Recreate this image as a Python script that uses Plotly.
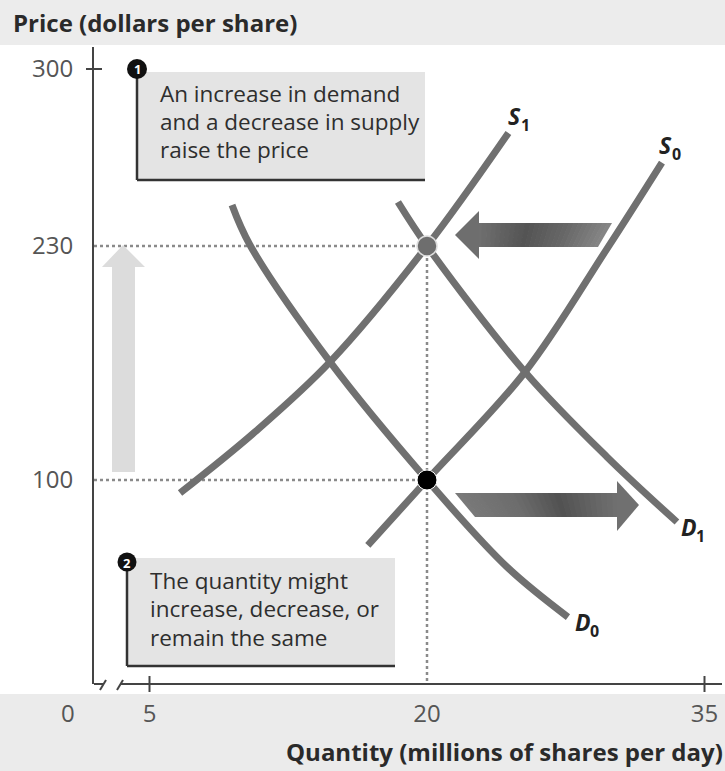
import numpy as np
import plotly.graph_objects as go

# ---------------- data ----------------
price_ticks = [100, 230, 300]
price_tick_labels = ["100", "230", "300"]
quantity_ticks = [5, 20, 35]
quantity_tick_labels = ["5", "20", "35"]

s0_q = [16.8, 20.0, 25.3, 29.7, 32.7]
s0_p = [68, 100, 160, 228, 263]
s1_q = [6.65, 10.7, 14.76, 20.0, 24.4]
s1_p = [93.6, 126.7, 165.6, 230, 274.7]
d0_q = [9.46, 10.43, 14.76, 20.0, 24.32, 27.62]
d0_p = [246.2, 230.4, 165.6, 100, 57.4, 32.8]
d1_q = [18.43, 20.0, 25.3, 29.73, 33.51]
d1_p = [247.4, 230, 160, 112.8, 79.4]

eq_q = [20, 20]          # initial and new equilibrium quantity
eq_p = [100, 230]        # initial and new equilibrium price

# ---------------- layout geometry ----------------
W, H = 725, 771
L, R, T, B = 94, 5, 47, 87
PW, PH = W - L - R, H - T - B
PX_PER_Q = 18.5
X_RANGE = [2.0, 2.0 + PW / PX_PER_Q]
# the printed price axis is not evenly spaced: anchor positions of its ticks
SCALE_PRICE = [0, 100, 230, 300]
SCALE_POS = [0, 204, 438, 615]


def ypos(p):
    return np.interp(p, SCALE_PRICE, SCALE_POS)


def px(x):
    return (x - L) / PW


def py(y):
    return (H - B - y) / PH


FONT = "Open Sans"
CURVE = "#707070"
fig = go.Figure()

# dotted guide lines
x_axis_start = X_RANGE[0]
for q, p in zip(eq_q, eq_p):
    fig.add_trace(go.Scatter(x=[x_axis_start, q], y=ypos([p, p]), mode="lines",
                             line=dict(color="#8a8a8a", width=2.5, dash="dot"),
                             hoverinfo="skip", showlegend=False))
fig.add_trace(go.Scatter(x=[eq_q[1], eq_q[1]], y=ypos([eq_p[1], 0]), mode="lines",
                         line=dict(color="#8a8a8a", width=2.5, dash="dot"),
                         hoverinfo="skip", showlegend=False))

for qq, pp in [(s1_q, s1_p), (s0_q, s0_p), (d0_q, d0_p), (d1_q, d1_p)]:
    fig.add_trace(go.Scatter(x=qq, y=ypos(pp), mode="lines",
                             line=dict(color=CURVE, width=7, shape="spline", smoothing=1.0),
                             hoverinfo="skip", showlegend=False))

# equilibrium points
fig.add_trace(go.Scatter(x=[eq_q[0]], y=ypos([eq_p[0]]), mode="markers",
                         marker=dict(color="black", size=20, line=dict(color="white", width=1)),
                         hoverinfo="skip", showlegend=False))
fig.add_trace(go.Scatter(x=[eq_q[1]], y=ypos([eq_p[1]]), mode="markers",
                         marker=dict(color="#6e6e6e", size=20, line=dict(color="#dddddd", width=1.5)),
                         hoverinfo="skip", showlegend=False))

shapes = []
ann = []

# background strips of the scanned page
shapes.append(dict(type="rect", xref="paper", yref="paper", x0=px(0), x1=px(W), y0=py(0), y1=py(45),
                   fillcolor="#ececec", line=dict(width=0), layer="below"))
shapes.append(dict(type="rect", xref="paper", yref="paper", x0=px(0), x1=px(W), y0=py(694), y1=py(H),
                   fillcolor="#ebebeb", line=dict(width=0), layer="below"))


def seg(x0, y0, x1, y1, color="#444", width=2):
    shapes.append(dict(type="line", xref="paper", yref="paper", x0=px(x0), y0=py(y0),
                       x1=px(x1), y1=py(y1), line=dict(color=color, width=width)))


def poly(points, color):
    path = "M " + " L ".join(f"{px(a):.5f},{py(b):.5f}" for a, b in points) + " Z"
    shapes.append(dict(type="path", xref="paper", yref="paper", path=path,
                       fillcolor=color, line=dict(width=0)))


# x axis with break
seg(94, 684, 103, 684)
seg(100, 690, 106, 680)
seg(117, 690, 123, 680)
seg(120, 684, 722, 684)
# tick marks
seg(86, 684 - 615, 102, 684 - 615)
for q in [5, 35]:
    xpix = L + (q - X_RANGE[0]) * PX_PER_Q
    seg(xpix, 676, xpix, 692)


def gray(v):
    v = int(round(v))
    return f"rgb({v},{v},{v})"


def grad_body(xl_top, xl_bot, xr_top, xr_bot, ytop, ybot, stops_x, stops_v, n=28):
    for i in range(n):
        f0, f1 = i / n, min(1.0, (i + 1.15) / n)
        xt0 = xl_top + (xr_top - xl_top) * f0
        xt1 = xl_top + (xr_top - xl_top) * f1
        xb0 = xl_bot + (xr_bot - xl_bot) * f0
        xb1 = xl_bot + (xr_bot - xl_bot) * f1
        c = np.interp((xt0 + xb1) / 2, stops_x, stops_v)
        poly([(xt0, ytop), (xt1, ytop), (xb1, ybot), (xb0, ybot)], gray(c))


# supply shift arrow (leftwards)
grad_body(477, 477, 612, 598, 223, 247, [478, 525, 565, 612], [112, 84, 104, 140])
poly([(479, 211), (455, 235), (479, 259)], gray(110))
# demand shift arrow (rightwards)
grad_body(455, 475, 618, 618, 493, 517, [455, 520, 560, 600, 618], [124, 108, 82, 104, 112])
poly([(617, 481), (639, 505), (617, 531)], gray(112))
# price rise arrow (upwards, light)
poly([(112, 472), (112, 267), (102, 267), (123, 245), (145, 267), (135, 267), (135, 472)], "#dcdcdc")

# explanation boxes
shapes.append(dict(type="rect", xref="paper", yref="paper", x0=px(138), x1=px(425), y0=py(180), y1=py(72),
                   fillcolor="#e4e4e4", line=dict(width=0)))
seg(137, 72, 137, 180, "#333", 2.5)
seg(137, 180, 425, 180, "#333", 2.5)
shapes.append(dict(type="rect", xref="paper", yref="paper", x0=px(128), x1=px(395), y0=py(666), y1=py(558),
                   fillcolor="#e4e4e4", line=dict(width=0)))
seg(127, 564, 127, 666, "#333", 2.5)
seg(127, 666, 395, 666, "#333", 2.5)
for cx, cy, r, t in [(137, 69, 10, "1"), (127, 562, 9.5, "2")]:
    shapes.append(dict(type="circle", xref="paper", yref="paper", x0=px(cx - r), x1=px(cx + r),
                       y0=py(cy + r), y1=py(cy - r), fillcolor="#111", line=dict(width=0)))
    ann.append(dict(x=px(cx), y=py(cy + 0.5), xref="paper", yref="paper", text=f"<b>{t}</b>",
                    showarrow=False, font=dict(family=FONT, size=13, color="white"),
                    xanchor="center", yanchor="middle"))

box1 = ["An increase in demand", "and a decrease in supply", "raise the price"]
for i, line in enumerate(box1):
    ann.append(dict(x=px(158), y=py(93 + 28.5 * i), xref="paper", yref="paper", text=line,
                    showarrow=False, font=dict(family=FONT, size=22.5, color="#2e2e2e"),
                    xanchor="left", yanchor="middle"))
box2 = ["The quantity might", "increase, decrease, or", "remain the same"]
for i, line in enumerate(box2):
    ann.append(dict(x=px(148), y=py(580 + 28.5 * i), xref="paper", yref="paper", text=line,
                    showarrow=False, font=dict(family=FONT, size=22.5, color="#2e2e2e"),
                    xanchor="left", yanchor="middle"))

# curve labels (letter + separate subscript)
for name, sub, x, y in [("S", "1", 514, 116), ("S", "0", 665, 145), ("D", "1", 689, 527), ("D", "0", 583, 622)]:
    ann.append(dict(x=px(x), y=py(y), xref="paper", yref="paper",
                    text=f"<b><i>{name}</i></b>", showarrow=False,
                    font=dict(family=FONT, size=23, color="#222"), xanchor="center", yanchor="middle"))
    ann.append(dict(x=px(x + 11), y=py(y + 9), xref="paper", yref="paper",
                    text=f"<b>{sub}</b>", showarrow=False,
                    font=dict(family=FONT, size=16, color="#222"), xanchor="center", yanchor="middle"))

# x tick label at the broken corner
ann.append(dict(x=px(68), y=py(712), xref="paper", yref="paper", text="0", showarrow=False,
                font=dict(family=FONT, size=24, color="#555"), xanchor="center", yanchor="middle"))

# axis titles
ann.append(dict(x=px(11), y=py(23), xref="paper", yref="paper", text="<b>Price (dollars per share)</b>",
                showarrow=False, font=dict(family=FONT, size=24, color="#2a2a2a"),
                xanchor="left", yanchor="middle"))
ann.append(dict(x=px(725), y=py(751), xref="paper", yref="paper",
                text="<b>Quantity (millions of shares per day)</b>", showarrow=False,
                font=dict(family=FONT, size=24, color="#2a2a2a"), xanchor="right", yanchor="middle"))

fig.update_layout(
    width=W, height=H,
    margin=dict(l=L, r=R, t=T, b=B, pad=0),
    paper_bgcolor="white", plot_bgcolor="rgba(0,0,0,0)",
    showlegend=False,
    shapes=shapes, annotations=ann,
    xaxis=dict(range=X_RANGE, showgrid=False, zeroline=False, showline=False,
               tickvals=quantity_ticks, ticktext=quantity_tick_labels, ticks="",
               tickfont=dict(family=FONT, size=24, color="#555"), ticklabelstandoff=13),
    yaxis=dict(range=[0, PH], showgrid=False, zeroline=False, showline=True,
               linecolor="#444", linewidth=2,
               tickvals=ypos(price_ticks), ticktext=price_tick_labels, ticks="",
               tickfont=dict(family=FONT, size=24, color="#555"), ticklabelstandoff=14),
)

fig.write_html("out.html")
